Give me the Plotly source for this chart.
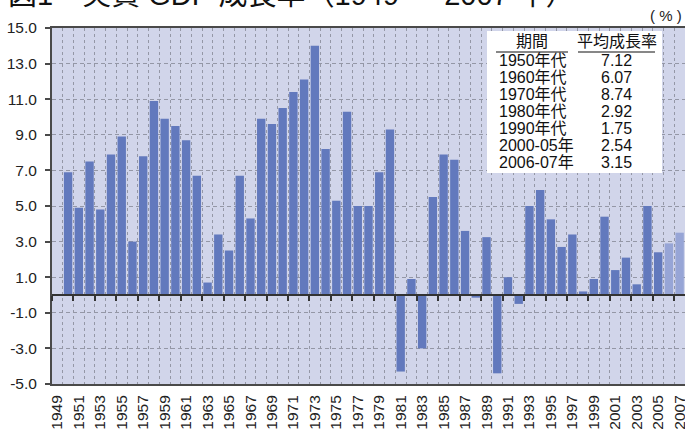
import plotly.graph_objects as go

# ---------------- data ----------------
years = list(range(1950, 2008))
growth = [6.9, 4.9, 7.5, 4.8, 7.9, 8.9, 3.0, 7.8, 10.9, 9.9,
          9.5, 8.7, 6.7, 0.7, 3.4, 2.5, 6.7, 4.3, 9.9, 9.6,
          10.5, 11.4, 12.1, 14.0, 8.2, 5.3, 10.3, 5.0, 5.0, 6.9,
          9.3, -4.3, 0.9, -3.0, 5.5, 7.9, 7.6, 3.6, -0.15, 3.25,
          -4.4, 1.0, -0.5, 5.0, 5.9, 4.25, 2.7, 3.4, 0.2, 0.9,
          4.4, 1.4, 2.1, 0.6, 5.0, 2.4, 2.9, 3.5]
estimate_years = [2006, 2007]
x_label_years = list(range(1949, 2008, 2))
y_tick_values = list(range(-5, 16, 2))
periods = ["1950年代", "1960年代", "1970年代", "1980年代", "1990年代", "2000-05年", "2006-07年"]
averages = ["7.12", "6.07", "8.74", "2.92", "1.75", "2.54", "3.15"]
table_headers = ["期間", "平均成長率"]
title_text = "図1　実質 GDP 成長率（1949 ― 2007 年）"
unit_text = "( % )"

# ---------------- layout helpers ----------------
W, H = 685, 432
ML, MR, MT, MB = 52, 0, 28, 48
PW, PH = W - ML - MR, H - MT - MB


def px(xp):
    return (xp - ML) / PW


def py(yp):
    return (H - MB - yp) / PH


FONT = "Liberation Sans, Arial, Noto Sans CJK JP, sans-serif"
BAR = "#6279bd"
BAR_LIGHT = "#97a5d6"
BG = "#d1d5ea"
GRID = "#9497a6"
AXIS = "#4a4a4a"

colors = [BAR_LIGHT if y in estimate_years else BAR for y in years]

fig = go.Figure()
fig.add_trace(go.Bar(x=years, y=growth, marker=dict(color=colors, line=dict(width=0)),
                     width=0.78, showlegend=False, hoverinfo="x+y"))
# invisible helper trace so the zero-line axis is drawn
fig.add_trace(go.Scatter(x=[years[0]], y=[0], xaxis="x2", mode="markers",
                         marker=dict(opacity=0), showlegend=False, hoverinfo="skip"))

xr = [1948.5, 2007.5]
fig.update_layout(
    width=W, height=H, autosize=False,
    margin=dict(l=ML, r=MR, t=MT, b=MB, autoexpand=False),
    paper_bgcolor="white",
    plot_bgcolor=BG,
    font=dict(family=FONT, size=16, color="#222"),
    bargap=0.22,
    xaxis=dict(range=xr, tickmode="array", tickvals=x_label_years,
               ticktext=[str(y) for y in x_label_years], tickangle=-90,
               ticks="", showgrid=False, zeroline=False, automargin=False,
               showline=True, linecolor=AXIS, linewidth=2, mirror=True,
               ticklabeloverflow="allow",
               ticklabelstandoff=3, tickfont=dict(size=15.5, color="#222")),
    xaxis2=dict(range=xr, overlaying="x", anchor="free", position=0.25,
                tickmode="linear", tick0=1950.5, dtick=2, ticks="outside", ticklen=5,
                tickwidth=1.5, tickcolor="#333", showticklabels=False, automargin=False,
                showline=True, linecolor="#333", linewidth=1.5, zeroline=False,
                showgrid=True, gridcolor=GRID, griddash="3px,3px", gridwidth=1,
                minor=dict(tick0=1948.5, dtick=1, showgrid=True, gridcolor=GRID,
                           griddash="3px,3px", gridwidth=1, ticks="")),
    yaxis=dict(range=[-5, 15], tickmode="array", tickvals=y_tick_values,
               ticktext=[f"{v:.1f}" for v in y_tick_values], automargin=False,
               ticks="outside", ticklen=5, tickwidth=1.5, tickcolor=AXIS,
               showgrid=True, gridcolor=GRID, griddash="4px,3px", gridwidth=1,
               zeroline=False, showline=True, linecolor=AXIS, linewidth=2,
               ticklabelstandoff=5, tickfont=dict(size=15.5, color="#222")),
)

shapes = []
# table box
shapes.append(dict(type="rect", xref="paper", yref="paper",
                   x0=px(487), x1=px(662), y0=py(173), y1=py(31),
                   fillcolor="white", line=dict(width=0), layer="above"))
# header underlines
shapes.append(dict(type="line", xref="paper", yref="paper",
                   x0=px(496), x1=px(568), y0=py(52), y1=py(52),
                   line=dict(color="#111", width=1.2)))
shapes.append(dict(type="line", xref="paper", yref="paper",
                   x0=px(578), x1=px(655), y0=py(52), y1=py(52),
                   line=dict(color="#111", width=1.2)))
fig.update_layout(shapes=shapes)

ann = []
ann.append(dict(text=title_text, xref="paper", yref="paper", x=px(6), y=py(13),
                xanchor="left", yanchor="bottom", showarrow=False,
                font=dict(size=29, color="#111", family=FONT)))
ann.append(dict(text=unit_text, xref="paper", yref="paper", x=px(684), y=py(15),
                xanchor="right", yanchor="middle", showarrow=False,
                font=dict(size=15, color="#222")))
ann.append(dict(text=table_headers[0], xref="paper", yref="paper", x=px(532), y=py(42),
                xanchor="center", yanchor="middle", showarrow=False,
                font=dict(size=16, color="#111")))
ann.append(dict(text=table_headers[1], xref="paper", yref="paper", x=px(616.5), y=py(42),
                xanchor="center", yanchor="middle", showarrow=False,
                font=dict(size=16, color="#111")))
for i, (p, a) in enumerate(zip(periods, averages)):
    yc = py(61 + 16.9 * i)
    ann.append(dict(text=p, xref="paper", yref="paper", x=px(497), y=yc,
                    xanchor="left", yanchor="middle", showarrow=False,
                    font=dict(size=16, color="#111")))
    ann.append(dict(text=a, xref="paper", yref="paper", x=px(616.5), y=yc,
                    xanchor="center", yanchor="middle", showarrow=False,
                    font=dict(size=16, color="#111")))
fig.update_layout(annotations=ann)

fig.write_html("out.html", config={"displayModeBar": False},
               post_script="document.body.style.margin='0px';document.body.style.overflow='hidden';")
